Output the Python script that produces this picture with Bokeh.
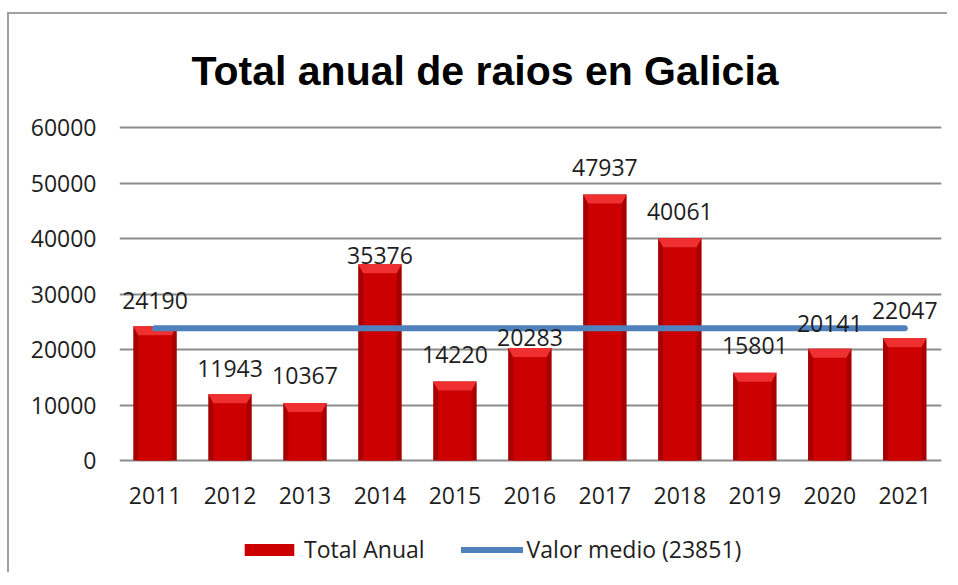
from bokeh.plotting import figure
from bokeh.models import Range1d, FixedTicker, Legend, LegendItem, ColumnDataSource
from bokeh.core.properties import value
from bokeh.embed import file_html
from bokeh.resources import INLINE

# ---- data ----
years = ["2011", "2012", "2013", "2014", "2015", "2016", "2017", "2018", "2019", "2020", "2021"]
totals = [24190, 11943, 10367, 35376, 14220, 20283, 47937, 40061, 15801, 20141, 22047]
mean_value = 23851
y_ticks = [0, 10000, 20000, 30000, 40000, 50000, 60000]
title_text = "Total anual de raios en Galicia"
bar_label = "Total Anual"
mean_label = "Valor medio (%d)" % mean_value

# label gap above bar tops, in screen pixels (style)
label_gap_px = [18, 18, 19, 1, 19, 2, 19, 19, 19, 17, 20]
BASELINE_FIX_PX = 8

# ---- layout geometry (pixels) ----
FIG_W, FIG_H = 940, 560
BORDER_L, BORDER_R, BORDER_T = 110, 8, 111
FRAME_W = FIG_W - BORDER_L - BORDER_R
FRAME_H = FIG_H - BORDER_T                     # frame runs to the bottom of the figure
PX_PER_10K = 55.5                              # vertical scale
TOP_PAD_PX = 2                                 # room above the 60000 gridline
Y_TOP_VAL = y_ticks[-1]
upp_y = 10000.0 / PX_PER_10K
Y_END = Y_TOP_VAL + TOP_PAD_PX * upp_y
Y_START = Y_END - FRAME_H * upp_y
X_START, X_END = -0.474, 10.49
upp_x = (X_END - X_START) / FRAME_W

BAR_W = 0.58
bevel_h = 9 * upp_y
inset = 5 * upp_x

TXT = "#1e1e1e"
FONT = "Open Sans"
FS = "23px"

xs_idx = list(range(len(years)))

p = figure(width=FIG_W, height=FIG_H,
           x_range=Range1d(X_START, X_END), y_range=Range1d(Y_START, Y_END),
           output_backend="svg", toolbar_location=None,
           min_border_left=BORDER_L, min_border_right=BORDER_R,
           min_border_top=BORDER_T, min_border_bottom=0,
           title=title_text)
p.styles = {"border-left": "2px solid #a0a0a0", "border-top": "2px solid #a0a0a0",
            "margin-left": "7px", "margin-top": "12px"}

p.title.align = "left"
p.title.offset = 72
p.title.text_font = "Liberation Sans"
p.title.text_font_style = "bold"
p.title.text_font_size = "41px"
p.title.text_color = "#000000"
p.title.standoff = 63

p.outline_line_color = None
p.background_fill_color = "white"
p.border_fill_color = "white"

# axes
p.xaxis.fixed_location = 0
p.xaxis.ticker = FixedTicker(ticks=xs_idx)
p.xaxis.major_label_overrides = {i: y for i, y in zip(xs_idx, years)}
p.yaxis.ticker = FixedTicker(ticks=y_ticks)
for ax in (p.xaxis, p.yaxis):
    ax.axis_line_color = None
    ax.major_tick_line_color = None
    ax.minor_tick_line_color = None
    ax.major_label_text_font = FONT
    ax.major_label_text_font_size = FS
    ax.major_label_text_color = TXT
p.yaxis.major_label_standoff = 17
p.xaxis.major_label_standoff = 20
p.xgrid.grid_line_color = None
p.ygrid.grid_line_color = "#8c8c8c"
p.ygrid.grid_line_width = 2

# bars (3D-ish look)
src = ColumnDataSource(dict(
    x=xs_idx, top=totals, inner_top=[t - bevel_h for t in totals],
    label=[str(t) for t in totals],
    dy=[-(g + BASELINE_FIX_PX) for g in label_gap_px],
))
p.vbar(x="x", top="top", bottom=0, width=BAR_W, source=src,
       fill_color="#a80000", line_color=None)
r_inner = p.vbar(x="x", top="inner_top", bottom=0, width=BAR_W - 2 * inset, source=src,
                 fill_color="#cc0000", line_color="#a80000", line_width=0)
bev_xs = [[i - BAR_W / 2, i + BAR_W / 2, i + BAR_W / 2 - inset, i - BAR_W / 2 + inset] for i in xs_idx]
bev_ys = [[t, t, t - bevel_h, t - bevel_h] for t in totals]
p.patches(bev_xs, bev_ys, fill_color="#f03030", line_color=None)

# mean line
r_line = p.line(x=[xs_idx[0], xs_idx[-1]], y=[mean_value, mean_value],
                line_color="#4f81bd", line_width=6, line_cap="round")

# value labels
p.text(x="x", y="top", text="label", source=src, y_offset="dy",
       text_align="center", text_baseline="alphabetic",
       text_font=value(FONT), text_font_size=FS, text_color=TXT)

legend = Legend(items=[LegendItem(label=bar_label, renderers=[r_inner]),
                       LegendItem(label=mean_label, renderers=[r_line])],
                orientation="horizontal", location=(119, 9),
                glyph_width=62, glyph_height=15, label_standoff=4, spacing=36,
                label_text_font=FONT, label_text_font_size=FS,
                label_text_color=TXT, border_line_color=None,
                background_fill_alpha=0, margin=0, padding=0)
p.add_layout(legend, "center")

open("out.html", "w").write(file_html(p, INLINE))
